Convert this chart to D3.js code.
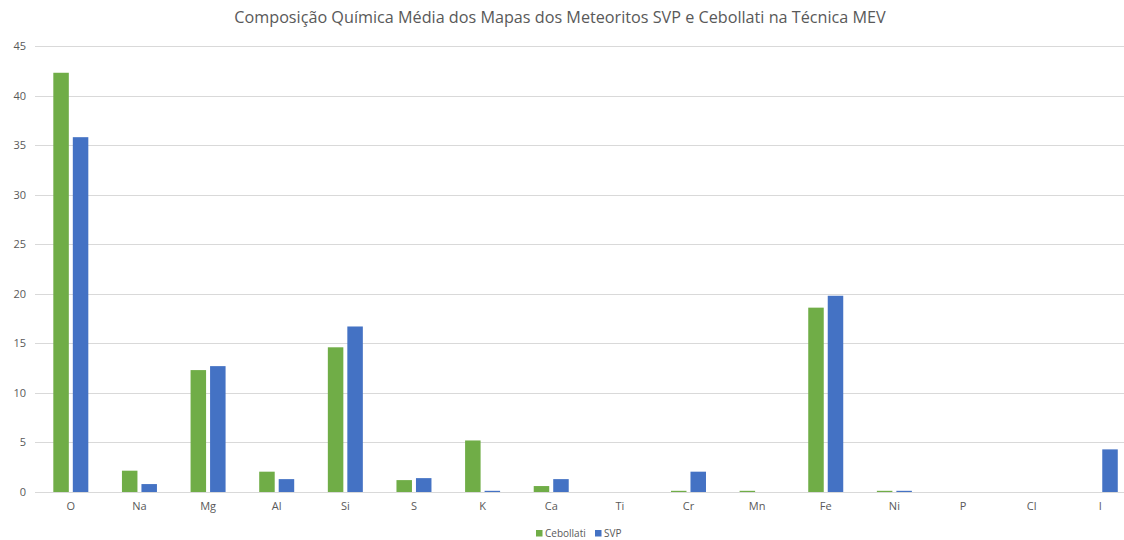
<!DOCTYPE html>
<html>
<head>
<meta charset="utf-8">
<script src="https://cdn.jsdelivr.net/npm/d3@7"></script>
<style>
  html, body { margin: 0; padding: 0; background: #fff; }
  svg { display: block; }
  text { font-family: "Open Sans", "Liberation Sans", sans-serif; fill: #595959; }
</style>
</head>
<body>
<svg id="chart" width="1124" height="540"></svg>
<script>
// Elements analysed (x axis)
const elements = ["O", "Na", "Mg", "Al", "Si", "S", "K", "Ca", "Ti", "Cr", "Mn", "Fe", "Ni", "P", "Cl", "I"];
// Series names
const seriesNames = ["Cebollati", "SVP"];
// Average composition per element
const cebollati = [42.3, 2.15, 12.3, 2.05, 14.6, 1.2, 5.2, 0.6, 0, 0.12, 0.12, 18.6, 0.12, 0, 0, 0];
const svp       = [35.8, 0.8, 12.7, 1.3, 16.7, 1.4, 0.12, 1.3, 0, 2.05, 0, 19.8, 0.12, 0, 0, 4.3];
// Y axis ticks
const yTicks = [0, 5, 10, 15, 20, 25, 30, 35, 40, 45];

const colors = { "Cebollati": "#70AD47", "SVP": "#4472C4" };
const title = "Composição Química Média dos Mapas dos Meteoritos SVP e Cebollati na Técnica MEV";

const svg = d3.select("#chart");
const W = 1124;

const plot = { left: 36.5, top: 46, bottom: 492 };
const step = 68.63;

const x0 = d3.scaleBand()
  .domain(elements)
  .range([plot.left, plot.left + step * elements.length])
  .padding(0);

const groupW = 35;
const x1 = d3.scaleBand()
  .domain(seriesNames)
  .range([x0.bandwidth() / 2 - groupW / 2, x0.bandwidth() / 2 + groupW / 2])
  .paddingInner(0.205);

const y = d3.scaleLinear().domain([0, 45]).range([plot.bottom, plot.top]);

// Title
svg.append("text")
  .attr("x", 560)
  .attr("y", 23)
  .attr("text-anchor", "middle")
  .style("font-size", "16.2px")
  .text(title);

// Gridlines
svg.append("g")
  .selectAll("line")
  .data(yTicks)
  .join("line")
  .attr("x1", 35)
  .attr("x2", W)
  .attr("y1", d => Math.round(y(d)) + 0.5)
  .attr("y2", d => Math.round(y(d)) + 0.5)
  .attr("stroke", "#d9d9d9")
  .attr("stroke-width", 1);

// Y axis labels
const yAxis = d3.axisLeft(y).tickValues(yTicks).tickSize(0).tickPadding(0);
svg.append("g")
  .attr("transform", "translate(26,0)")
  .call(yAxis)
  .call(g => g.select(".domain").remove())
  .call(g => g.selectAll("text")
    .style("font-family", "'Open Sans', 'Liberation Sans', sans-serif")
    .style("font-size", "11px")
    .attr("fill", "#595959"));

// Bars
const rows = elements.map((el, i) => ({ el, vals: [cebollati[i], svp[i]] }));
const groups = svg.append("g")
  .selectAll("g")
  .data(rows)
  .join("g")
  .attr("transform", d => `translate(${x0(d.el)},0)`);

groups.selectAll("rect")
  .data(d => d.vals.map((v, k) => ({ key: seriesNames[k], v })))
  .join("rect")
  .attr("x", d => x1(d.key))
  .attr("width", x1.bandwidth())
  .attr("y", d => y(d.v))
  .attr("height", d => y(0) - y(d.v))
  .attr("fill", d => colors[d.key]);

// X axis labels
const xAxis = d3.axisBottom(x0).tickSize(0).tickPadding(0);
svg.append("g")
  .attr("transform", `translate(0,${plot.bottom + 10})`)
  .call(xAxis)
  .call(g => g.select(".domain").remove())
  .call(g => g.selectAll("text")
    .style("font-family", "'Open Sans', 'Liberation Sans', sans-serif")
    .style("font-size", "11px")
    .attr("fill", "#595959"));

// Legend
const legend = svg.append("g").attr("transform", "translate(536,537)");
const legendItems = [
  { name: "Cebollati", x: 0 },
  { name: "SVP", x: 59 }
];
legendItems.forEach(item => {
  legend.append("rect")
    .attr("x", item.x)
    .attr("y", -7)
    .attr("width", 6.5)
    .attr("height", 6.5)
    .attr("fill", colors[item.name]);
  legend.append("text")
    .attr("x", item.x + 9)
    .attr("y", 0)
    .style("font-size", "10px")
    .text(item.name);
});
</script>
</body>
</html>
